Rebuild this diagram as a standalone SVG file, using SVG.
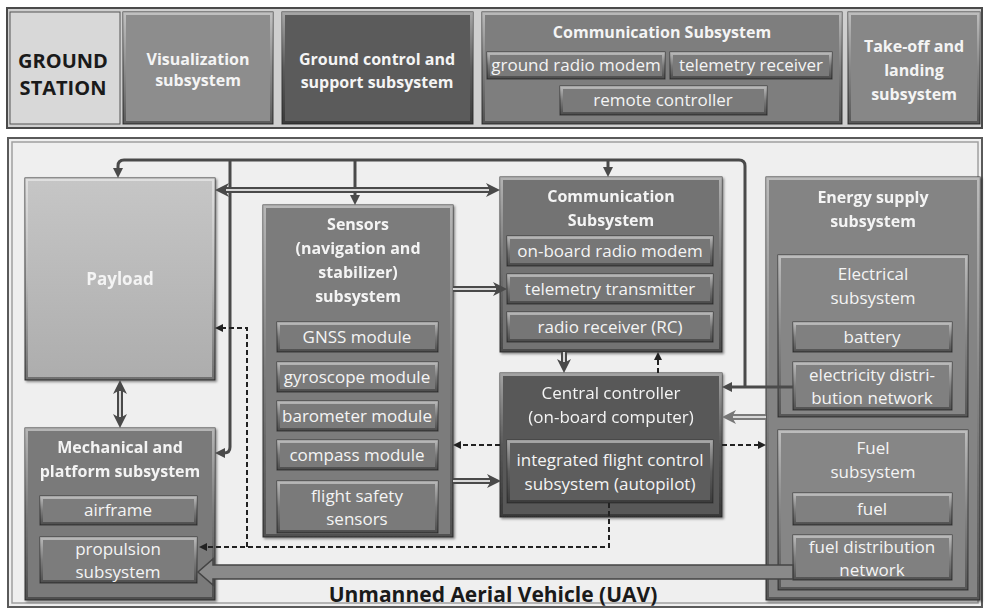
<svg xmlns="http://www.w3.org/2000/svg" width="989" height="611" viewBox="0 0 989 611">
<defs>
<linearGradient id="bev" x1="0" y1="0" x2="0" y2="1">
<stop offset="0" stop-color="#fff" stop-opacity="0.45"/>
<stop offset="0.5" stop-color="#fff" stop-opacity="0"/>
<stop offset="0.5" stop-color="#000" stop-opacity="0"/>
<stop offset="1" stop-color="#000" stop-opacity="0.35"/>
</linearGradient>
<linearGradient id="pay" x1="0" y1="0" x2="0" y2="1">
<stop offset="0" stop-color="#c6c6c6"/>
<stop offset="1" stop-color="#adadad"/>
</linearGradient>
<filter id="sh" x="-5%" y="-5%" width="110%" height="110%">
<feDropShadow dx="1.5" dy="1.5" stdDeviation="1.2" flood-color="#000" flood-opacity="0.45"/>
</filter>
<marker id="ah" markerUnits="userSpaceOnUse" markerWidth="11" markerHeight="11" refX="4" refY="5" orient="auto">
<path d="M0,0 L10,5 L0,10 z" fill="#4a4a4a"/>
</marker>
<marker id="ahd" markerUnits="userSpaceOnUse" markerWidth="9" markerHeight="9" refX="4" refY="4" orient="auto">
<path d="M0,0 L8,4 L0,8 z" fill="#222"/>
</marker>
<marker id="ahw" markerUnits="userSpaceOnUse" markerWidth="15" markerHeight="15" refX="6" refY="7" orient="auto-start-reverse">
<path d="M0,0 L14,7 L0,14 L4,7 z" fill="#4a4a4a"/>
</marker>
<marker id="ahl" markerUnits="userSpaceOnUse" markerWidth="15" markerHeight="15" refX="6" refY="7" orient="auto-start-reverse">
<path d="M0,0 L14,7 L0,14 L4,7 z" fill="#777"/>
</marker>
<style>
.bx{stroke:#3a3a3a;stroke-width:1}
.bv{fill:none;stroke:url(#bev);stroke-width:3}
.t{font-family:"Open Sans","Noto Sans",sans-serif;font-size:17px;fill:#f4f4f4;text-anchor:middle}
.tb{font-family:"Open Sans","Noto Sans",sans-serif;font-size:16px;font-weight:bold;fill:#f4f4f4;text-anchor:middle}
.tk{font-family:"Open Sans","Noto Sans",sans-serif;font-size:20px;font-weight:bold;fill:#1a1a1a;text-anchor:middle}
.s{fill:none;stroke:#4a4a4a;stroke-width:3}
.d{fill:none;stroke:#222;stroke-width:2;stroke-dasharray:5 3}
.do{fill:none;stroke:#4a4a4a;stroke-width:6}
.di{fill:none;stroke:#d8d8d8;stroke-width:2}
.dol{fill:none;stroke:#7a7a7a;stroke-width:6}
</style>
</defs>

<!-- frames -->
<rect x="7" y="8" width="975" height="120" fill="#cfcfcf" stroke="#4a4a4a" stroke-width="2"/>
<rect x="8" y="138" width="974" height="469" fill="#efefef" stroke="#5a5a5a" stroke-width="2"/>
<rect x="12" y="142" width="966" height="461" fill="none" stroke="#a0a0a0" stroke-width="1.5"/>

<!-- ground station -->
<g id="ground-station">
<rect x="10" y="12" width="110" height="112" fill="#d8d8d8" stroke="#555" stroke-width="1"/>
<text class="tk" x="63" y="68">GROUND</text>
<text class="tk" x="63" y="95">STATION</text>
</g>
<g id="visualization">
<rect class="bx" x="123" y="12" width="150" height="112" fill="#8d8d8d"/>
<rect class="bv" x="124.5" y="13.5" width="147" height="109"/>
<text class="tb" x="198" y="65">Visualization</text>
<text class="tb" x="198" y="86">subsystem</text>
</g>
<g id="ground-control">
<rect class="bx" x="282" y="12" width="191" height="112" fill="#5b5b5b"/>
<rect class="bv" x="283.5" y="13.5" width="188" height="109"/>
<text class="tb" x="377" y="65">Ground control and</text>
<text class="tb" x="377" y="88">support subsystem</text>
</g>
<g id="ground-comm">
<rect class="bx" x="482" y="12" width="360" height="112" fill="#7e7e7e"/>
<rect class="bv" x="483.5" y="13.5" width="357" height="109"/>
<text class="tb" x="662" y="38">Communication Subsystem</text>
</g>
<g id="ground-radio-modem">
<rect class="bx" x="487" y="52" width="178" height="27" fill="#7a7a7a"/>
<rect class="bv" x="488.5" y="53.5" width="175" height="24"/>
<text class="t" x="576" y="71">ground radio modem</text>
</g>
<g id="telemetry-receiver">
<rect class="bx" x="670" y="52" width="162" height="27" fill="#7a7a7a"/>
<rect class="bv" x="671.5" y="53.5" width="159" height="24"/>
<text class="t" x="751" y="71">telemetry receiver</text>
</g>
<g id="remote-controller">
<rect class="bx" x="560" y="86" width="207" height="29" fill="#7a7a7a"/>
<rect class="bv" x="561.5" y="87.5" width="204" height="26"/>
<text class="t" x="663" y="106">remote controller</text>
</g>
<g id="takeoff-landing">
<rect class="bx" x="848" y="12" width="132" height="112" fill="#878787"/>
<rect class="bv" x="849.5" y="13.5" width="129" height="109"/>
<text class="tb" x="914" y="52">Take-off and</text>
<text class="tb" x="914" y="76">landing</text>
<text class="tb" x="914" y="100">subsystem</text>
</g>

<!-- UAV nodes -->
<g id="payload" filter="url(#sh)">
<rect class="bx" x="25" y="178" width="190" height="202" fill="url(#pay)"/>
<rect class="bv" x="26.5" y="179.5" width="187" height="199"/>
<text class="tb" x="120" y="285" style="font-size:17px">Payload</text>
</g>
<g id="mechanical" filter="url(#sh)">
<rect class="bx" x="25" y="428" width="190" height="172" fill="#7a7a7a"/>
<rect class="bv" x="26.5" y="429.5" width="187" height="169"/>
<text class="tb" x="120" y="453">Mechanical and</text>
<text class="tb" x="120" y="477">platform subsystem</text>
</g>
<g id="airframe">
<rect class="bx" x="40" y="496" width="157" height="29" fill="#7c7c7c"/>
<rect class="bv" x="41.5" y="497.5" width="154" height="26"/>
<text class="t" x="118" y="516">airframe</text>
</g>
<g id="propulsion">
<rect class="bx" x="40" y="537" width="157" height="46" fill="#7c7c7c"/>
<rect class="bv" x="41.5" y="538.5" width="154" height="43"/>
<text class="t" x="118" y="555">propulsion</text>
<text class="t" x="118" y="578">subsystem</text>
</g>

<g id="sensors" filter="url(#sh)">
<rect class="bx" x="263" y="205" width="190" height="332" fill="#7c7c7c"/>
<rect class="bv" x="264.5" y="206.5" width="187" height="329"/>
<text class="tb" x="358" y="230">Sensors</text>
<text class="tb" x="358" y="254">(navigation and</text>
<text class="tb" x="358" y="278">stabilizer)</text>
<text class="tb" x="358" y="302">subsystem</text>
</g>
<g id="gnss">
<rect class="bx" x="277" y="322" width="161" height="30" fill="#7a7a7a"/>
<rect class="bv" x="278.5" y="323.5" width="158" height="27"/>
<text class="t" x="357" y="343">GNSS module</text>
</g>
<g id="gyroscope">
<rect class="bx" x="277" y="362" width="161" height="30" fill="#7a7a7a"/>
<rect class="bv" x="278.5" y="363.5" width="158" height="27"/>
<text class="t" x="357" y="383">gyroscope module</text>
</g>
<g id="barometer">
<rect class="bx" x="277" y="401" width="161" height="30" fill="#7a7a7a"/>
<rect class="bv" x="278.5" y="402.5" width="158" height="27"/>
<text class="t" x="357" y="422">barometer module</text>
</g>
<g id="compass">
<rect class="bx" x="277" y="440" width="161" height="30" fill="#7a7a7a"/>
<rect class="bv" x="278.5" y="441.5" width="158" height="27"/>
<text class="t" x="357" y="461">compass module</text>
</g>
<g id="flight-safety">
<rect class="bx" x="277" y="481" width="161" height="52" fill="#7a7a7a"/>
<rect class="bv" x="278.5" y="482.5" width="158" height="49"/>
<text class="t" x="357" y="502">flight safety</text>
<text class="t" x="357" y="525">sensors</text>
</g>

<g id="uav-comm" filter="url(#sh)">
<rect class="bx" x="500" y="177" width="222" height="175" fill="#737373"/>
<rect class="bv" x="501.5" y="178.5" width="219" height="172"/>
<text class="tb" x="611" y="202">Communication</text>
<text class="tb" x="611" y="226">Subsystem</text>
</g>
<g id="onboard-modem">
<rect class="bx" x="507" y="236" width="206" height="30" fill="#767676"/>
<rect class="bv" x="508.5" y="237.5" width="203" height="27"/>
<text class="t" x="610" y="257">on-board radio modem</text>
</g>
<g id="telemetry-transmitter">
<rect class="bx" x="507" y="274" width="206" height="30" fill="#767676"/>
<rect class="bv" x="508.5" y="275.5" width="203" height="27"/>
<text class="t" x="610" y="295">telemetry transmitter</text>
</g>
<g id="radio-receiver">
<rect class="bx" x="507" y="312" width="206" height="30" fill="#767676"/>
<rect class="bv" x="508.5" y="313.5" width="203" height="27"/>
<text class="t" x="610" y="333">radio receiver (RC)</text>
</g>

<g id="central-controller" filter="url(#sh)">
<rect class="bx" x="500" y="373" width="222" height="144" fill="#585858"/>
<rect class="bv" x="501.5" y="374.5" width="219" height="141"/>
<text class="t" x="611" y="399">Central controller</text>
<text class="t" x="611" y="423">(on-board computer)</text>
</g>
<g id="autopilot">
<rect class="bx" x="507" y="440" width="206" height="63" fill="#5d5d5d"/>
<rect class="bv" x="508.5" y="441.5" width="203" height="60"/>
<text class="t" x="610" y="466">integrated flight control</text>
<text class="t" x="610" y="490">subsystem (autopilot)</text>
</g>

<g id="energy" filter="url(#sh)">
<rect class="bx" x="766" y="177" width="214" height="423" fill="#848484"/>
<rect class="bv" x="767.5" y="178.5" width="211" height="420"/>
<text class="tb" x="873" y="203">Energy supply</text>
<text class="tb" x="873" y="227">subsystem</text>
</g>
<g id="electrical">
<rect class="bx" x="778" y="255" width="190" height="162" fill="#868686"/>
<rect class="bv" x="779.5" y="256.5" width="187" height="159"/>
<text class="t" x="873" y="280">Electrical</text>
<text class="t" x="873" y="304">subsystem</text>
</g>
<g id="battery">
<rect class="bx" x="793" y="322" width="159" height="30" fill="#808080"/>
<rect class="bv" x="794.5" y="323.5" width="156" height="27"/>
<text class="t" x="872" y="343">battery</text>
</g>
<g id="electricity-distribution">
<rect class="bx" x="793" y="362" width="159" height="48" fill="#808080"/>
<rect class="bv" x="794.5" y="363.5" width="156" height="45"/>
<text class="t" x="872" y="381">electricity distri-</text>
<text class="t" x="872" y="404">bution network</text>
</g>
<g id="fuel-subsystem">
<rect class="bx" x="778" y="430" width="190" height="160" fill="#868686"/>
<rect class="bv" x="779.5" y="431.5" width="187" height="157"/>
<text class="t" x="873" y="454">Fuel</text>
<text class="t" x="873" y="478">subsystem</text>
</g>
<g id="fuel">
<rect class="bx" x="793" y="493" width="159" height="32" fill="#808080"/>
<rect class="bv" x="794.5" y="494.5" width="156" height="29"/>
<text class="t" x="872" y="515">fuel</text>
</g>
<g id="fuel-distribution">
<rect class="bx" x="793" y="535" width="159" height="45" fill="#808080"/>
<rect class="bv" x="794.5" y="536.5" width="156" height="42"/>
<text class="t" x="872" y="553">fuel distribution</text>
<text class="t" x="872" y="576">network</text>
</g>

<text class="tk" x="493" y="602" style="font-size:21px">Unmanned Aerial Vehicle (UAV)</text>

<!-- connectors -->
<g id="connectors">
<path class="s" d="M793,387 H728" marker-end="url(#ah)"/>
<path class="s" d="M745,387 V166 Q745,160 739,160 H124 Q118,160 118,166 V172" marker-end="url(#ah)"/>
<path class="s" d="M355,160 V199" marker-end="url(#ah)"/>
<path class="s" d="M608,160 V171" marker-end="url(#ah)"/>
<path class="s" d="M230,160 V447 Q230,453 224,453 H221" marker-end="url(#ah)"/>

<path class="do" d="M223,190 H492" marker-start="url(#ahw)" marker-end="url(#ahw)"/>
<path class="di" d="M226,190 H489"/>
<path class="do" d="M453,289 H499" marker-end="url(#ahw)"/>
<path class="di" d="M453,289 H496"/>
<path class="do" d="M453,481 H493" marker-end="url(#ahw)"/>
<path class="di" d="M453,481 H490"/>
<path class="do" d="M564,352 V365" marker-end="url(#ahw)"/>
<path class="di" d="M564,352 V362"/>
<path class="dol" d="M766,417 H730" marker-end="url(#ahl)"/>
<path class="di" d="M766,417 H733"/>
<path class="do" d="M120,388 V420" marker-start="url(#ahw)" marker-end="url(#ahw)"/>
<path class="di" d="M120,391 V417"/>

<path class="d" d="M609,503 V547 H203" marker-end="url(#ahd)"/>
<path class="d" d="M247,547 V328 H219" marker-end="url(#ahd)"/>
<path class="d" d="M500,445 H457" marker-end="url(#ahd)"/>
<path class="d" d="M722,445 H762" marker-end="url(#ahd)"/>
<path class="d" d="M658,373 V356" marker-end="url(#ahd)"/>

<polygon points="793,565 213,565 213,559 198,572 213,585 213,579 793,579" fill="#8a8a8a" stroke="#444" stroke-width="1.5"/>
</g>
</svg>
